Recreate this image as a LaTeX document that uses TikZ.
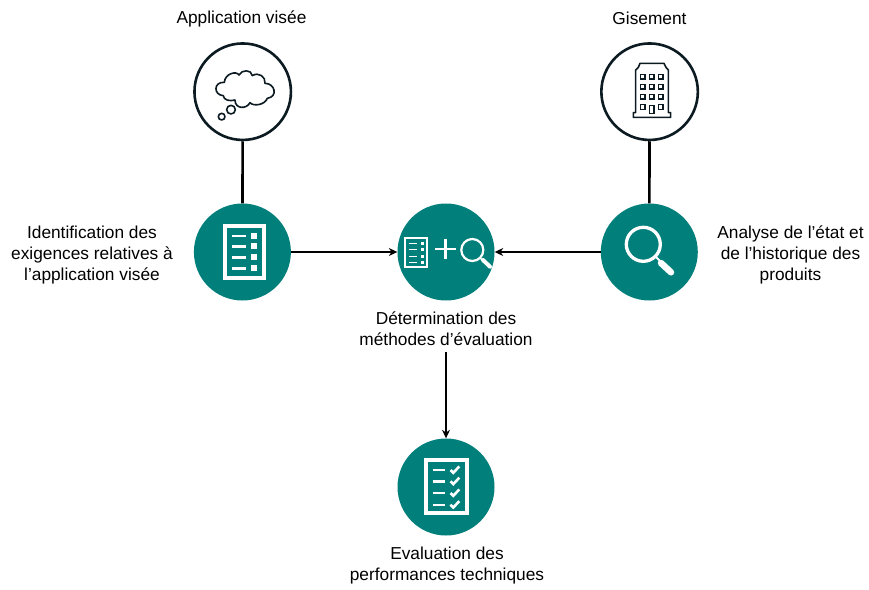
\documentclass[tikz,border=0pt]{standalone}
\usepackage{fontspec}
\setmainfont{Liberation Sans}
\usetikzlibrary{arrows.meta}
\definecolor{tealc}{HTML}{007F7B}
\definecolor{inkc}{HTML}{0C1A22}
\tikzset{
  x=1pt,y=-1pt,
  ring/.style={circle,draw=inkc,line width=2.6pt,fill=white,minimum size=96.5pt,inner sep=0pt},
  disc/.style={circle,fill=tealc,minimum size=97pt,inner sep=0pt},
  lab/.style={align=center,font=\fontsize{17.3}{21}\selectfont,inner sep=0pt,text=black},
  stem/.style={draw=black,line width=2.6pt},
  arr/.style={draw=black,line width=1.2pt,-{Stealth[length=8.5pt,width=8pt]}},
  ic/.style={draw=white,fill=none},
  thin ink/.style={draw=inkc,line width=1.6pt,fill=none,line join=round},
  window ink/.style={draw=inkc,line width=1.3pt,fill=none},
}
\begin{document}
\begin{tikzpicture}
\useasboundingbox (0,0) rectangle (869,589);
% connectors' end nodes
\node[ring] (app) at (242.7,91.7) {};
\node[ring] (gis) at (649.6,91.7) {};
\node[disc] (req) at (242.4,252) {};
\node[disc] (det) at (446,252) {};
\node[disc] (ana) at (649.3,252) {};
\node[disc] (eva) at (446,487) {};
% connectors
\draw[stem] (app) -- (req);
\draw[stem] (gis) -- (ana);
\draw[arr] (req) -- (det);
\draw[arr] (ana) -- (det);
% labels
\node[lab] (lapp) at (241.5,19) {Application visée};
\node[lab] (lgis) at (649.5,18.5) {Gisement};
\node[lab] (lreq) at (92,255) {Identification des\hspace{12pt}\\exigences relatives à\\l’application visée\hspace{10pt}};
\node[lab] (lana) at (790.5,255) {Analyse de l’état et\\de l’historique des\\produits};
\node[lab] (ldet) at (446,329) {Détermination des\\méthodes d’évaluation};
\node[lab] (leva) at (447,566) {Evaluation des\\performances techniques};
\draw[arr] (ldet.south)++(0,6) coordinate (darr) (darr) -- (eva);
% cloud
\begin{scope}[shift={(180,30)},x=0.3333pt,y=-0.3333pt]
\draw[thin ink] (133,157) .. controls (135,130) and (170,122) .. (177,135)
 .. controls (185,118) and (215,118) .. (217,137)
 .. controls (235,125) and (258,140) .. (255,160)
 .. controls (285,160) and (295,200) .. (262,205)
 .. controls (255,225) and (220,230) .. (210,218)
 .. controls (200,238) and (165,238) .. (165,210)
 .. controls (150,215) and (130,210) .. (130,197)
 .. controls (100,195) and (100,155) .. (133,157) -- cycle;
\draw[thin ink] (153,239) circle[radius=13];
\draw[thin ink] (125,260) circle[radius=10];
\end{scope}
% building
\begin{scope}[shift={(590,30)},x=0.3333pt,y=-0.3333pt]
\draw[thin ink] (137,248) -- (137,120) -- (145,112) -- (150,100) -- (222,100) -- (228,112) -- (235,120) -- (235,248) -- (242,248) -- (242,262) -- (130,262) -- (130,248) -- cycle;
\foreach \yy in {140,170,200,231}{\foreach \xx in {158,212}{
  \draw[window ink] (\xx-7,\yy-7) rectangle (\xx+7,\yy+7);}}
\foreach \yy in {140,170,200}{
  \draw[window ink] (178,\yy-7) rectangle (192,\yy+7);}
\draw[window ink] (178,226) rectangle (192,250);
\end{scope}
% requirement list icon
\draw[ic,line width=4pt] (224.7,226.3) rectangle (263.7,277.7);
\foreach \yy in {235.7,246.3,257.3,268.3}{
  \draw[ic,line width=2.4pt] (231.7,\yy) -- (246,\yy);
  \fill[white] (251,\yy-2.9) rectangle (256.7,\yy+2.9);
}
% combined icon
\draw[ic,line width=1.9pt] (405,238.3) rectangle (427.3,266.7);
\foreach \yy in {243.5,249.7,256.3,262.5}{
  \draw[ic,line width=1.3pt] (409,\yy) -- (417.3,\yy);
  \fill[white] (420.7,\yy-1.5) rectangle (423.7,\yy+1.5);
}
\draw[ic,line width=2.4pt] (435,249) -- (455.6,249) (445.3,238.7) -- (445.3,259.3);
\draw[ic,line width=2.2pt] (472.3,250) circle[radius=11];
\draw[ic,line width=1.4pt] (480,257.7) -- (483,261);
\draw[ic,line width=4pt,line cap=round] (483,260) -- (490,266.7);
% magnifier icon
\draw[ic,line width=3.3pt] (643.3,244.3) circle[radius=17];
\draw[ic,line width=2pt] (655.5,256.5) -- (661,262);
\draw[ic,line width=6.5pt,line cap=round] (661,263) -- (671,272.3);
% checklist icon
\draw[ic,line width=4pt] (426,460.3) rectangle (466.7,513.3);
\foreach \yy in {470,481.3,493,504.7}{
  \draw[ic,line width=2.4pt] (432.7,\yy) -- (445,\yy);
  \draw[ic,line width=2.6pt] (450.5,\yy) -- (453.3,\yy+2.8) -- (459.3,\yy-3.6);
}
\end{tikzpicture}
\end{document}
